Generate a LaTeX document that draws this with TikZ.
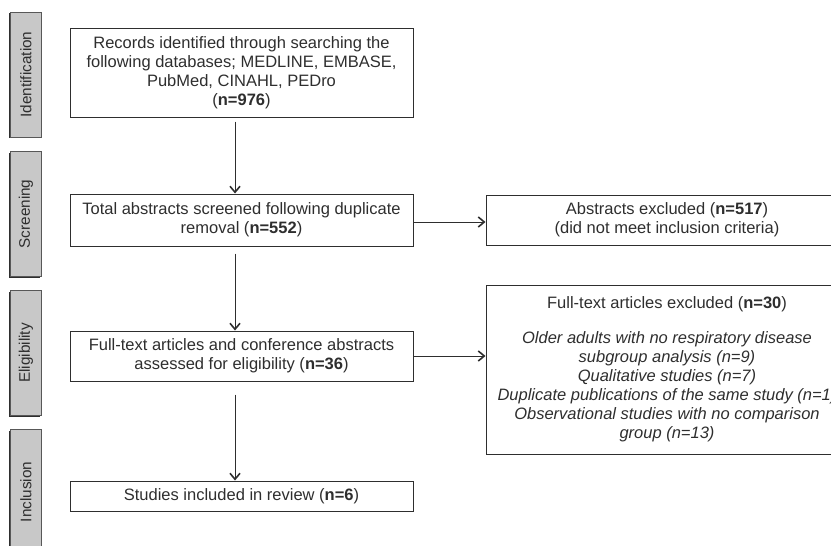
\documentclass[tikz,border=0pt]{standalone}
\usepackage{fontspec}
\setmainfont{Liberation Sans}
\usetikzlibrary{positioning, arrows.meta, shadows}
\definecolor{inkgray}{HTML}{2E2E2E}
\definecolor{stagefill}{HTML}{C8C8C8}
\tikzset{
  stage/.style={draw=inkgray!80, fill=stagefill, rotate=90, minimum width=125pt, minimum height=31pt,
    text=inkgray, font=\fontsize{15.3}{17}\selectfont,
    drop shadow={shadow xshift=-1.2pt, shadow yshift=-1.2pt, fill=inkgray, opacity=1}},
  box/.style={draw=inkgray, line width=1pt, align=center, text=inkgray, inner sep=2pt,
    font=\fontsize{16.5}{19}\selectfont, minimum width=343pt},
  excl/.style={box, minimum width=362pt},
  arr/.style={inkgray, line width=1pt, -{Straight Barb[length=6pt,width=10pt,line width=1.6pt]}},
}

\begin{document}
\begin{tikzpicture}
\useasboundingbox (0,0) rectangle (831pt,-546pt);
% stages on the left
\node[stage] (ident) at (26pt,-74.5pt) {Identification};
\node[stage] (screen) at (26pt,-214pt) {Screening};
\node[stage] (elig) at (26pt,-353pt) {Eligibility};
\node[stage] (incl) at (26pt,-492pt) {Inclusion};
% main flow
\node[box, minimum height=89pt] (records) at (241.5pt,-72.5pt) {Records identified through searching the\\following databases; MEDLINE, EMBASE,\\PubMed, CINAHL, PEDro\\(\textbf{n=976})};
\node[box, minimum height=52pt] (screened) [below=76pt of records] {Total abstracts screened following duplicate\\removal (\textbf{n=552})};
\node[box, minimum height=50pt] (fulltext) [below=84pt of screened] {Full-text articles and conference abstracts\\assessed for eligibility (\textbf{n=36})};
\node[box, minimum height=30pt] (included) [below=99pt of fulltext] {Studies included in review (\textbf{n=6})};
% exclusions
\node[excl, minimum height=50pt] (absexcl) [right=72pt of screened] {Abstracts excluded (\textbf{n=517})\\(did not meet inclusion criteria)};
\node[excl, minimum height=169pt, yshift=-13.5pt] (ftexcl) [right=72pt of fulltext] {Full-text articles excluded (\textbf{n=30})\\[16pt]
  \textit{Older adults with no respiratory disease}\\\textit{subgroup analysis (n=9)}\\\textit{Qualitative studies (n=7)}\\
  \textit{Duplicate publications of the same study (n=1)}\\\textit{Observational studies with no comparison}\\\textit{group (n=13)}};
\draw[arr] ([xshift=-6.5pt, yshift=-4pt]records.south) -- ([xshift=-6.5pt]screened.north);
\draw[arr] ([xshift=-6.5pt, yshift=-7pt]screened.south) -- ([xshift=-6.5pt]fulltext.north);
\draw[arr] ([xshift=-6.5pt, yshift=-13pt]fulltext.south) -- ([xshift=-6.5pt]included.north);
\draw[arr] ([yshift=-2pt]screened.east) -- ([yshift=-2pt]screened.east -| absexcl.west);
\draw[arr] (fulltext.east) -- (fulltext.east -| ftexcl.west);
\end{tikzpicture}
\end{document}
